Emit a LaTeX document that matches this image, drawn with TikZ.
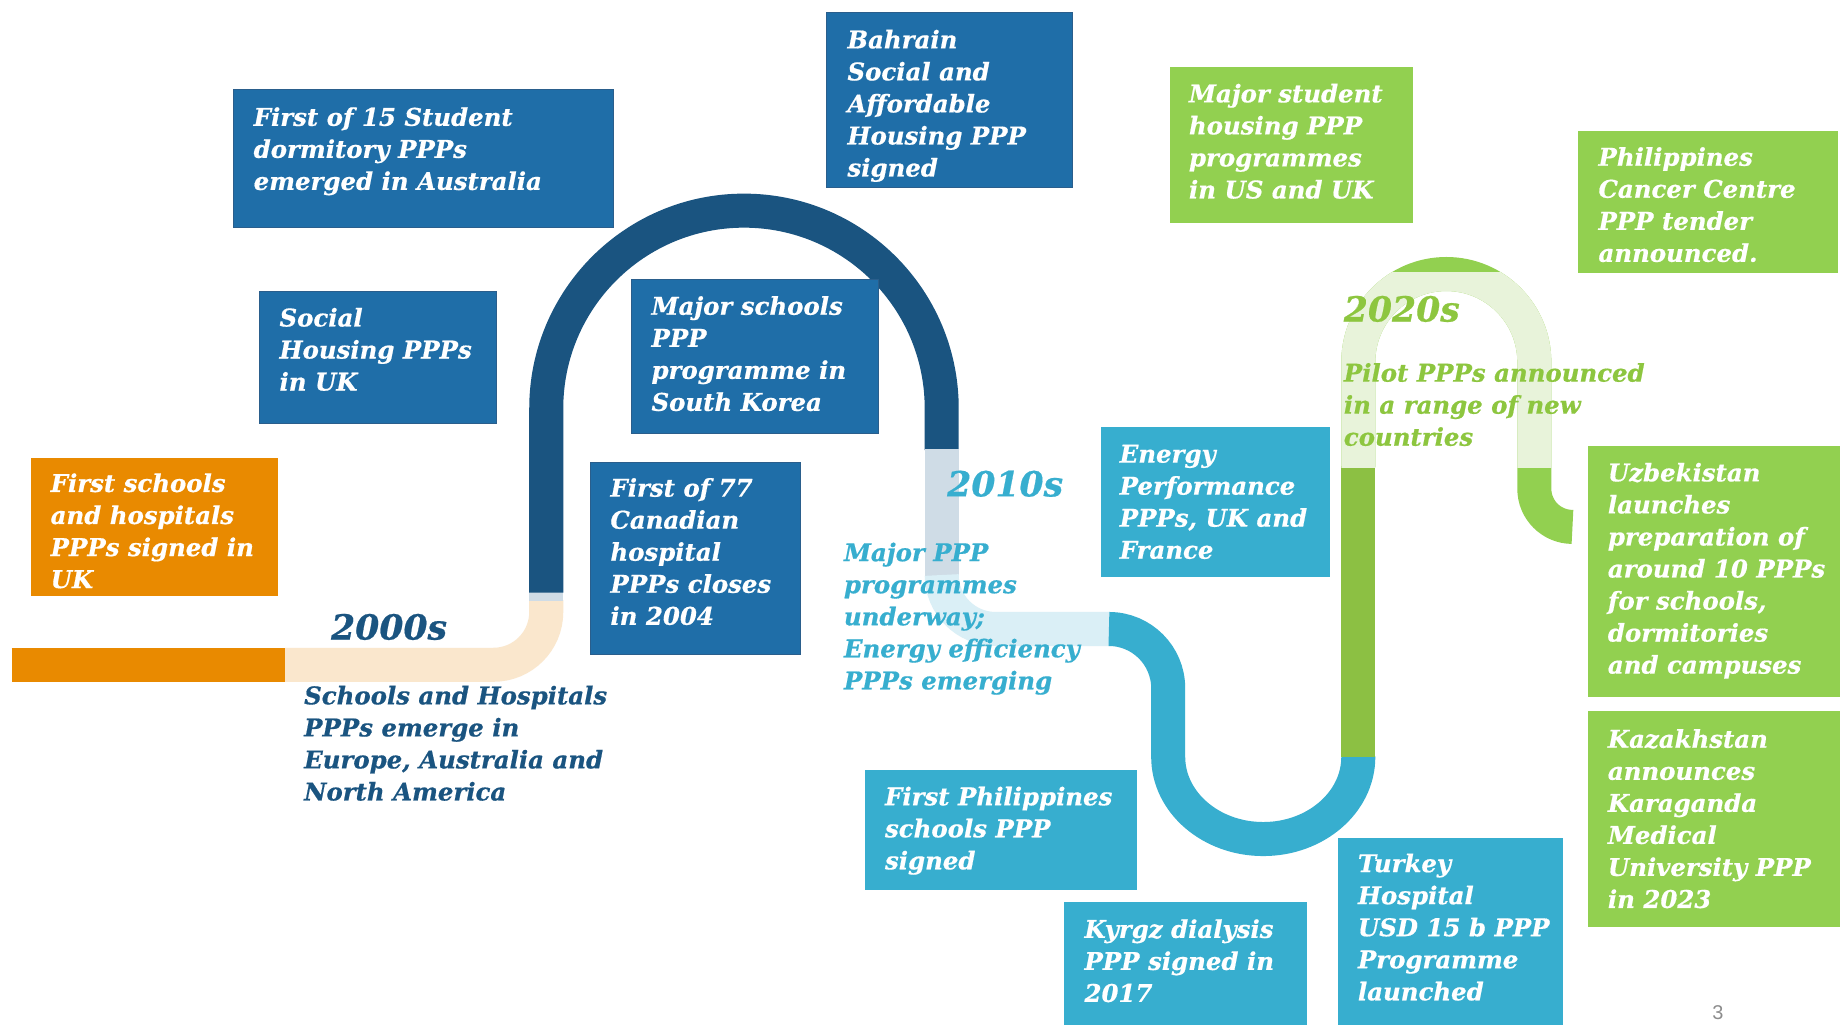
\documentclass[tikz,border=0pt]{standalone}
\usepackage{fontspec}
\setmainfont{DejaVu Serif}[BoldItalicFeatures={FakeBold=0.6}]
\newfontfamily\pgnumfont{Liberation Sans}
\definecolor{orng}{HTML}{E98A00}
\definecolor{paleorng}{HTML}{FAE7CD}
\definecolor{dkblue}{HTML}{1A5480}
\definecolor{boxblue}{HTML}{1F6EA8}
\definecolor{boxblueline}{HTML}{2A5E8C}
\definecolor{greyblue}{HTML}{CFDCE6}
\definecolor{cyanc}{HTML}{37AECF}
\definecolor{palecyan}{HTML}{DAEFF6}
\definecolor{greenbox}{HTML}{92D050}
\definecolor{greentrack}{HTML}{8CC043}
\definecolor{palegreen}{HTML}{E8F3DA}
\definecolor{greentext}{HTML}{8DC63F}
\definecolor{pagegrey}{HTML}{8C8C8C}
\begin{document}
\begin{tikzpicture}[x=1pt,y=1pt,
  track/.style={line width=29pt, line cap=butt},
  panel/.style={anchor=north west, inner sep=0pt, outer sep=0pt},
  bluepanel/.style={panel, fill=boxblue, draw=boxblueline, line width=0.8pt},
  cyanpanel/.style={panel, fill=cyanc},
  greenpanel/.style={panel, fill=greenbox},
  orangepanel/.style={panel, fill=orng},
  txt/.style={anchor=north west, inner sep=0pt, align=left, font=\fontsize{20.8}{27.3}\selectfont\bfseries\itshape},
  boxtxt/.style={txt, text=white},
  decade/.style={anchor=base west, inner sep=0pt, font=\fontsize{29.5}{30}\selectfont\bfseries\itshape},
]
\useasboundingbox[fill=white] (0,0) rectangle (1568,-873);

% ---- track ----
\draw[track, orng] (10,-566.5) -- (243.5,-566.5);
\draw[track, paleorng] (243,-566.5) -- (420.5,-566.5) arc[start angle=-90, end angle=0, radius=45] -- (465.5,-511.5);
\draw[track, greyblue] (465.5,-512) -- (465.5,-504.5);
\draw[track, dkblue] (465.5,-505) -- (465.5,-348) arc[start angle=180, end angle=0, radius=168.5] -- (802.5,-383.5);
\draw[track, greyblue] (802.5,-383) -- (802.5,-490.5);
\draw[track, palecyan] (802.5,-490) arc[start angle=180, end angle=270, radius=46] -- (945.5,-536);
\draw[track, cyanc] (945,-536) arc[start angle=90, end angle=0, radius=50.5] -- (995.5,-645) arc[start angle=180, end angle=360, x radius=81, y radius=70] -- (1157.5,-644.5);
\draw[track, greentrack] (1157.5,-645) -- (1157.5,-397.5);
\draw[track, greenbox] (1157.5,-398) -- (1157.5,-308.5) arc[start angle=180, end angle=0, radius=75] -- (1307.5,-416.5) arc[start angle=180, end angle=270, radius=32.5];
\begin{scope}
  \clip (1100,-232) rectangle (1360,-398);
  \draw[track, palegreen] (1157.5,-420) -- (1157.5,-308.5) arc[start angle=180, end angle=0, radius=75] -- (1307.5,-420);
\end{scope}

% ---- panels ----
\node[orangepanel, minimum width=211pt, minimum height=118pt] (b1) at (26,-390) {};
\node[bluepanel, minimum width=324pt, minimum height=118pt] (b2) at (199,-76) {};
\node[bluepanel, minimum width=202pt, minimum height=113pt] (b3) at (221,-248) {};
\node[bluepanel, minimum width=211pt, minimum height=131pt] (b4) at (538,-238) {};
\node[bluepanel, minimum width=179pt, minimum height=164pt] (b5) at (503,-394) {};
\node[bluepanel, minimum width=210pt, minimum height=149pt] (b6) at (704,-11) {};
\node[greenpanel, minimum width=207pt, minimum height=133pt] (b7) at (997,-57) {};
\node[greenpanel, minimum width=221pt, minimum height=121pt] (b8) at (1345,-112) {};
\node[cyanpanel, minimum width=195pt, minimum height=128pt] (b9) at (938,-364) {};
\node[cyanpanel, minimum width=232pt, minimum height=102pt] (b10) at (737,-656) {};
\node[cyanpanel, minimum width=207pt, minimum height=115pt] (b11) at (907,-769) {};
\node[cyanpanel, minimum width=192pt, minimum height=170pt] (b12) at (1140,-714) {};
\node[greenpanel, minimum width=220pt, minimum height=214pt] (b13) at (1353,-380) {};
\node[greenpanel, minimum width=220pt, minimum height=184pt] (b14) at (1353,-606) {};

% ---- panel texts ----
\node[boxtxt] (t1) at (43,-402) {\rule{0pt}{17pt}First schools\\and hospitals\\PPPs signed in\\UK};
\node[boxtxt] (t2) at (216,-90) {\rule{0pt}{17pt}First of 15 Student\\dormitory PPPs\\emerged in Australia};
\node[boxtxt] (t3) at (238,-261) {\rule{0pt}{17pt}Social\\Housing PPPs\\in UK};
\node[boxtxt] (t4) at (555,-251) {\rule{0pt}{17pt}Major schools\\PPP\\programme in\\South Korea};
\node[boxtxt] (t5) at (520,-406) {\rule{0pt}{17pt}First of 77\\Canadian\\hospital\\PPPs closes\\in 2004};
\node[boxtxt] (t6) at (722,-24) {\rule{0pt}{17pt}Bahrain\\Social and\\Affordable\\Housing PPP\\signed};
\node[boxtxt] (t7) at (1013,-70) {\rule{0pt}{17pt}Major student\\housing PPP\\programmes\\in US and UK};
\node[boxtxt] (t8) at (1362,-124) {\rule{0pt}{17pt}Philippines\\Cancer Centre\\PPP tender\\announced.};
\node[boxtxt] (t9) at (954,-377) {\rule{0pt}{17pt}Energy\\Performance\\PPPs, UK and\\France};
\node[boxtxt] (t10) at (754,-669) {\rule{0pt}{17pt}First Philippines\\schools PPP\\signed};
\node[boxtxt] (t11) at (924,-782) {\rule{0pt}{17pt}Kyrgz dialysis\\PPP signed in\\2017};
\node[boxtxt] (t12) at (1157,-726) {\rule{0pt}{17pt}Turkey\\Hospital\\USD 15 b PPP\\Programme\\launched};
\node[boxtxt] (t13) at (1370,-393) {\rule{0pt}{17pt}Uzbekistan\\launches\\preparation of\\around 10 PPPs\\for schools,\\dormitories\\and campuses};
\node[boxtxt] (t14) at (1370,-620) {\rule{0pt}{17pt}Kazakhstan\\announces\\Karaganda\\Medical\\University PPP\\in 2023};

% ---- decade labels ----
\node[decade, text=dkblue] (d1) at (282,-545) {2000s};
\node[txt, text=dkblue] (d1t) at (259,-583) {\rule{0pt}{17pt}Schools and Hospitals\\PPPs emerge in\\Europe, Australia and\\North America};
\node[decade, text=cyanc] (d2) at (807,-423) {2010s};
\node[txt, text=cyanc] (d2t) at (719,-461) {\rule{0pt}{17pt}Major PPP\\programmes\\underway;\\Energy efficiency\\PPPs emerging};
\node[decade, text=greentext] (d3) at (1145,-274) {2020s};
\node[txt, text=greentext] (d3t) at (1145,-308) {\rule{0pt}{17pt}Pilot PPPs announced\\in a range of new\\countries};

\node[anchor=north west, inner sep=0pt, text=pagegrey, font=\fontsize{17}{17}\pgnumfont] (pg) at (1459,-857) {3};
\end{tikzpicture}
\end{document}
